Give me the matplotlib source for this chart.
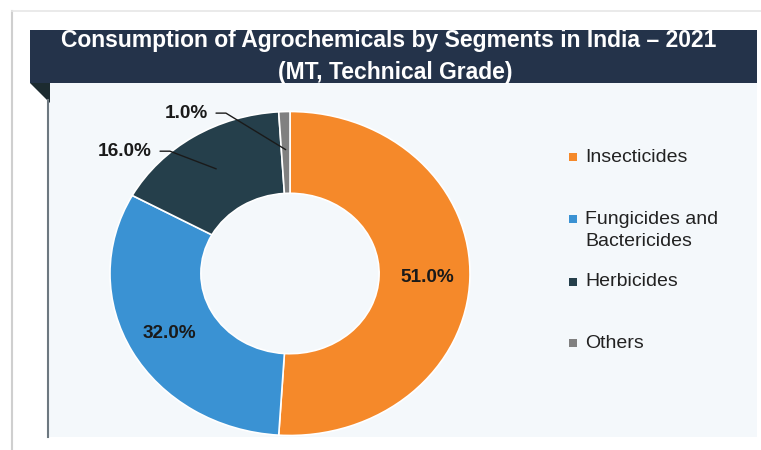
import numpy as np
import matplotlib
matplotlib.use("Agg")
import matplotlib.pyplot as plt
from matplotlib.patches import Rectangle, Polygon

# ---------------- data ----------------
title_line1 = "Consumption of Agrochemicals by Segments in India \u2013 2021"
title_line2 = "(MT, Technical Grade)"
categories = ["Insecticides", "Fungicides and\nBactericides", "Herbicides", "Others"]
shares = [51.0, 32.0, 16.0, 1.0]
colors = ["#f5892a", "#3a92d3", "#253f4b", "#808080"]

plt.rcParams['font.family'] = ['Liberation Sans', 'DejaVu Sans']

W, H = 761, 450
fig = plt.figure(figsize=(W / 100, H / 100), dpi=100, facecolor="white")

# background / decoration axes in pixel coordinates
bg = fig.add_axes([0, 0, 1, 1])
bg.set_xlim(0, W)
bg.set_ylim(H, 0)
bg.axis("off")

# outer frame lines
bg.plot([12, 12], [11, H], color="#cfcfcf", lw=1.5)
bg.plot([12, W], [11, 11], color="#e6e6e6", lw=1.2)
# chart area background
bg.add_patch(Rectangle((48, 83), 709, 354, facecolor="#f4f8fb", edgecolor="none"))
# title bar
bg.add_patch(Rectangle((30, 30), 727, 53, facecolor="#24334a", edgecolor="none"))
# small dark triangle under title bar
bg.add_patch(Polygon([(30, 83), (50, 83), (50, 103)], closed=True,
                     facecolor="#1c2b30", edgecolor="none"))
# vertical dark line on the left
bg.plot([48, 48], [100, 437], color="#6d7880", lw=1.5)

bg.text(389, 41, title_line1, color="white", fontsize=16.5, fontweight="bold",
        ha="center", va="center")
bg.text(395, 72, title_line2, color="white", fontsize=16.5, fontweight="bold",
        ha="center", va="center")

# legend (manual, markers aligned with first label line)
leg_x_marker, leg_x_text = 573, 585
leg_rows = [157, 219, 282, 343]
line_gap = 22
for cat, col, yrow in zip(categories, colors, leg_rows):
    bg.add_patch(Rectangle((leg_x_marker - 4, yrow - 4), 8, 8,
                           facecolor=col, edgecolor="none"))
    for j, line in enumerate(cat.split("\n")):
        bg.text(leg_x_text, yrow + j * line_gap, line, fontsize=14,
                color="#222222", ha="left", va="center")

# ---------------- donut ----------------
ax = fig.add_axes([110 / W, (H - 435.5) / H, 360 / W, 324 / H])
wedges, _ = ax.pie(shares, colors=colors, startangle=90, counterclock=False,
                   radius=1.0,
                   wedgeprops=dict(width=0.505, edgecolor="white", linewidth=1.2))
ax.set_aspect("auto")
ax.set_xlim(-1, 1)
ax.set_ylim(-1, 1)
ax.axis("off")

label_r = 0.765
total = sum(shares)
cum = np.cumsum([0] + shares[:-1])
mids = [90 - 360 * (c + s / 2) / total for c, s in zip(cum, shares)]
labels = [f"{s:.1f}%" for s in shares]

# text anchors (right edge) for outside labels
outside_pos = {2: (-0.767, 0.755), 3: (-0.456, 0.99)}
for i, (lab, m) in enumerate(zip(labels, mids)):
    mx = label_r * np.cos(np.radians(m))
    my = label_r * np.sin(np.radians(m))
    if i in outside_pos:
        tx, ty = outside_pos[i]
        ax.text(tx, ty, lab, fontsize=13.7, fontweight="bold", color="#1a1a1a",
                ha="right", va="center")
        x0 = tx + 0.045
        x1 = x0 + 0.055
        ax.plot([x0, x1, mx], [ty, ty, my], color="#1a1a1a", lw=1.0,
                solid_capstyle="round")
    else:
        ax.text(mx, my, lab, fontsize=13.7, fontweight="bold", color="#1a1a1a",
                ha="center", va="center")

fig.savefig("out.png", dpi=100, facecolor="white")
